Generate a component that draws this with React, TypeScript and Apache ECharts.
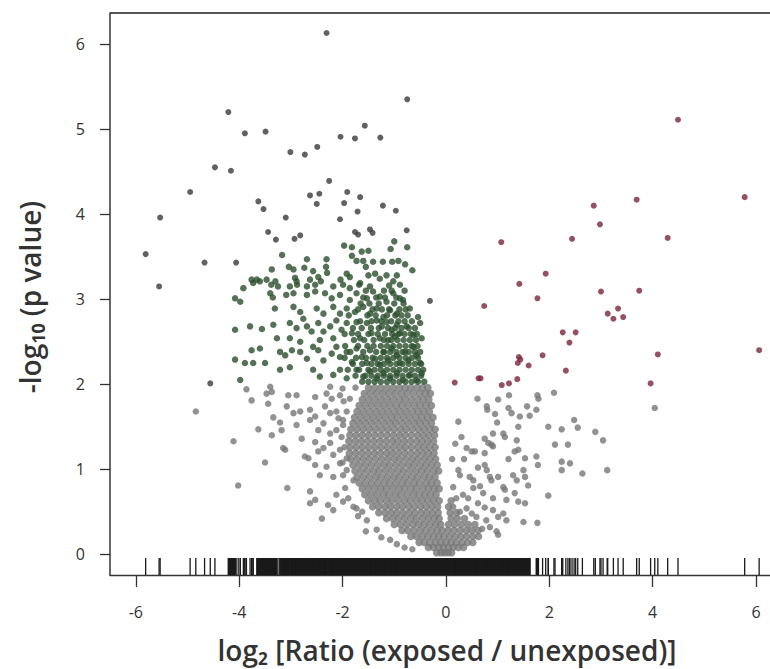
import React, { useEffect, useRef } from "react";
import * as echarts from "echarts";

// ---- axis ticks ----
const xTicks = [-6, -4, -2, 0, 2, 4, 6];
const yTicks = [0, 1, 2, 3, 4, 5, 6];

// ---- most significant points (dark) ----
const darkPoints: number[][] = [
  [-2.31, 6.13], [-0.75, 5.35], [-4.21, 5.2], [-3.89, 4.95], [-3.49, 4.97], [-1.57, 5.04],
  [-2.04, 4.91], [-1.76, 4.89], [-1.27, 4.9], [-2.49, 4.79], [-3.01, 4.73], [-2.73, 4.7],
  [-4.47, 4.55], [-4.16, 4.51], [-2.26, 4.39], [-4.95, 4.26], [-2.63, 4.22], [-2.45, 4.24],
  [-1.91, 4.26], [-1.66, 4.2], [-1.97, 4.13], [-2.5, 4.12], [-3.63, 4.15], [-3.53, 4.06],
  [-1.22, 4.1], [-0.97, 4.04], [-1.71, 4.03], [-5.53, 3.96], [-3.1, 3.96], [-2.05, 3.94],
  [-5.81, 3.53], [-5.55, 3.15], [-4.67, 3.43], [-4.06, 3.43], [-3.44, 3.79], [-3.29, 3.7],
  [-2.93, 3.71], [-2.82, 3.75], [-1.76, 3.79], [-1.7, 3.76], [-1.47, 3.82], [-1.42, 3.78],
  [-0.76, 3.81], [-0.31, 2.98], [-4.56, 2.01],
];

// ---- up-regulated significant points (red) ----
const upPoints: number[][] = [
  [4.49, 5.11], [5.78, 4.2], [3.69, 4.17], [2.86, 4.1], [2.98, 3.88], [1.07, 3.67], [2.44, 3.71],
  [4.29, 3.72], [1.93, 3.3], [1.42, 3.18], [1.77, 3.01], [0.74, 2.92], [3.0, 3.09], [3.74, 3.1],
  [3.33, 2.89], [3.13, 2.83], [3.24, 2.77], [3.43, 2.79], [2.26, 2.61], [2.51, 2.61], [2.39, 2.49],
  [6.06, 2.4], [4.1, 2.35], [3.96, 2.01], [2.32, 2.16], [1.87, 2.34], [1.41, 2.32], [1.39, 2.25],
  [1.44, 2.29], [1.6, 2.22], [1.38, 2.06], [1.22, 2.01], [1.08, 1.99], [0.63, 2.07], [0.67, 2.07],
  [0.17, 2.02],
];

// ---- down-regulated significant points (green) ----
const greenPoints: number[][] = [
  [-1.97, 3.63], [-1.82, 3.61], [-1.63, 3.56], [-1.5, 3.57], [-1.82, 3.51], [-1.73, 3.45],
  [-1.41, 3.44], [-1.22, 3.44], [-1.04, 3.44], [-0.79, 3.41], [-0.65, 3.34], [-1.55, 3.38],
  [-3.17, 3.52], [-2.69, 3.47], [-2.31, 3.47], [-3.37, 3.35], [-3.04, 3.38], [-2.95, 3.35],
  [-2.74, 3.37], [-2.57, 3.33], [-2.32, 3.38], [-2.3, 3.31], [-1.92, 3.3], [-1.37, 3.3],
  [-1.28, 3.24], [-3.76, 3.23], [-3.66, 3.23], [-3.92, 3.13], [-3.47, 3.23], [-3.38, 3.17],
  [-2.92, 3.25], [-2.88, 3.17], [-2.63, 3.23], [-2.47, 3.26], [-2.04, 3.23], [-1.86, 3.26],
  [-1.68, 3.17], [-1.02, 3.21], [-0.89, 3.17], [-1.0, 3.68], [-1.07, 3.59], [-0.75, 3.61],
  [-3.73, 3.19], [-3.6, 3.21], [-3.3, 3.21], [-3.25, 3.15], [-3.02, 3.15], [-2.89, 3.21],
  [-2.69, 3.15], [-2.53, 3.17], [-2.42, 3.21], [-2.18, 3.15], [-1.99, 3.17], [-1.86, 3.13],
  [-1.66, 3.19], [-1.47, 3.15], [-1.1, 3.16], [-0.83, 2.99], [-0.7, 2.89], [-0.54, 2.79],
  [-4.08, 3.01], [-3.98, 2.97], [-3.4, 3.07], [-3.35, 3.02], [-3.09, 3.05], [-2.95, 3.07],
  [-2.69, 3.05], [-2.53, 3.09], [-2.34, 3.07], [-2.21, 3.01], [-2.05, 3.05], [-1.86, 2.99],
  [-1.73, 3.07], [-1.53, 3.01], [-1.41, 3.09], [-1.28, 3.03], [-1.15, 2.97], [-1.02, 3.07],
  [-0.89, 3.01], [-3.31, 2.89], [-2.95, 2.91], [-2.82, 2.85], [-2.5, 2.89], [-2.37, 2.83],
  [-2.18, 2.91], [-2.05, 2.83], [-1.92, 2.89], [-1.76, 2.85], [-1.6, 2.91], [-1.47, 2.83],
  [-1.34, 2.89], [-1.21, 2.79], [-1.08, 2.87], [-0.95, 2.83],
  [-4.08, 2.64], [-3.79, 2.68], [-3.56, 2.65], [-3.34, 2.7], [-3.76, 2.4], [-3.6, 2.42],
  [-3.27, 2.54], [-3.02, 2.72], [-2.89, 2.66], [-3.02, 2.54], [-2.76, 2.77], [-2.69, 2.68],
  [-2.6, 2.62], [-2.82, 2.5], [-2.47, 2.72], [-2.37, 2.62], [-2.24, 2.68], [-2.44, 2.52],
  [-2.12, 2.75], [-2.02, 2.64], [-1.92, 2.72], [-1.82, 2.6], [-2.18, 2.54], [-1.73, 2.73],
  [-1.63, 2.66], [-1.53, 2.72], [-1.44, 2.6], [-1.66, 2.54], [-1.34, 2.75], [-1.24, 2.68],
  [-1.15, 2.73], [-1.05, 2.64], [-0.95, 2.7], [-0.89, 2.6], [-0.76, 2.68], [-0.63, 2.58],
  [-0.5, 2.72], [-0.47, 2.54], [-1.28, 2.54], [-1.12, 2.52], [-0.99, 2.56],
  [-4.08, 2.29], [-3.89, 2.25], [-3.73, 2.25], [-3.5, 2.25], [-3.21, 2.38], [-3.11, 2.34],
  [-2.98, 2.4], [-3.21, 2.17], [-3.02, 2.2], [-2.82, 2.38], [-2.69, 2.3], [-2.57, 2.44],
  [-2.47, 2.4], [-2.37, 2.28], [-2.21, 2.36], [-2.12, 2.44], [-2.05, 2.32], [-1.92, 2.38],
  [-1.82, 2.26], [-1.73, 2.42], [-1.63, 2.32], [-1.53, 2.25], [-1.47, 2.4], [-1.37, 2.3],
  [-1.28, 2.23], [-1.21, 2.38], [-1.12, 2.28], [-1.05, 2.42], [-0.95, 2.34], [-0.89, 2.25],
  [-0.79, 2.38], [-0.73, 2.28], [-0.63, 2.44], [-0.57, 2.34], [-0.5, 2.25],
  [-3.98, 2.05], [-2.57, 2.17], [-2.44, 2.09], [-2.18, 2.11], [-2.05, 2.17], [-1.92, 2.07],
  [-1.73, 2.17], [-1.6, 2.09], [-1.47, 2.15], [-1.34, 2.07], [-1.21, 2.13], [-1.08, 2.07],
  [-0.95, 2.13], [-0.83, 2.05], [-0.7, 2.11], [-0.57, 2.05], [-0.47, 2.13],
];

// dense core of the green cloud read row by row: [y, x values]
const greenCoreRows: [number, number[]][] = [
  [2.03, [-1.62, -1.5, -1.38, -1.26, -1.14, -1.02, -0.9, -0.78, -0.66, -0.54, -0.42]],
  [2.1, [-1.75, -1.56, -1.44, -1.32, -1.2, -1.08, -0.96, -0.84, -0.72, -0.6, -0.48]],
  [2.17, [-1.9, -1.68, -1.5, -1.38, -1.26, -1.14, -1.02, -0.9, -0.78, -0.66, -0.54, -0.44]],
  [2.24, [-1.8, -1.62, -1.44, -1.32, -1.2, -1.08, -0.96, -0.84, -0.72, -0.6, -0.48]],
  [2.31, [-1.96, -1.74, -1.55, -1.42, -1.26, -1.14, -1.02, -0.9, -0.78, -0.66, -0.54]],
  [2.38, [-1.85, -1.6, -1.35, -1.2, -1.08, -0.96, -0.84, -0.72, -0.6, -0.5]],
  [2.45, [-1.95, -1.7, -1.52, -1.4, -1.26, -1.14, -1.02, -0.9, -0.78, -0.66, -0.55]],
  [2.52, [-1.78, -1.58, -1.4, -1.2, -1.06, -0.94, -0.82, -0.7, -0.58]],
  [2.59, [-1.96, -1.7, -1.5, -1.32, -1.18, -1.04, -0.92, -0.8, -0.68, -0.56]],
  [2.66, [-1.8, -1.45, -1.3, -1.12, -0.98, -0.86, -0.72, -0.6]],
  [2.74, [-1.66, -1.44, -1.25, -1.06, -0.92, -0.8, -0.66]],
  [2.81, [-1.88, -1.52, -1.36, -1.14, -0.98, -0.86, -0.74]],
  [2.88, [-1.7, -1.42, -1.24, -1.1, -0.9, -0.78]],
  [2.95, [-1.65, -1.48, -1.3, -1.0, -0.82]],
  [3.02, [-1.6, -1.35, -1.18, -0.96]],
  [3.1, [-1.55, -1.2, -1.05, -0.8]],
  [3.28, [-1.5, -1.15, -0.95]],
  [3.45, [-1.6, -0.92]],
];

// ---- non-significant points (grey), scattered ----
const greyScatter: number[][] = [
  [-4.84, 1.68], [-4.11, 1.33], [-3.5, 1.08], [-4.02, 0.81], [-3.07, 0.78], [-3.86, 1.94],
  [-3.76, 1.81], [-3.63, 1.47], [-3.47, 1.89], [-3.37, 1.91], [-3.05, 1.87], [-2.89, 1.87],
  [-2.53, 1.85], [-2.31, 1.89], [-2.21, 1.83], [-2.05, 1.87], [-1.86, 1.83], [-3.44, 1.77],
  [-3.08, 1.74], [-2.95, 1.66], [-2.82, 1.68], [-2.63, 1.7], [-2.53, 1.62], [-2.34, 1.74],
  [-2.24, 1.66], [-2.12, 1.68], [-1.99, 1.58], [-1.92, 1.68], [-3.34, 1.61], [-3.21, 1.55],
  [-3.18, 1.46], [-2.89, 1.52], [-2.79, 1.36], [-2.63, 1.58], [-2.47, 1.46], [-2.37, 1.54],
  [-2.24, 1.42], [-2.12, 1.46], [-1.99, 1.52], [-3.37, 1.4], [-3.15, 1.25], [-3.11, 1.23],
  [-2.73, 1.15], [-2.66, 1.13], [-2.53, 1.32], [-2.47, 1.21], [-2.37, 1.25], [-2.24, 1.31],
  [-2.18, 1.17], [-2.05, 1.23], [-1.92, 1.13], [-2.53, 1.05], [-2.44, 0.93], [-2.31, 1.03],
  [-2.18, 0.91], [-2.05, 1.07], [-1.99, 0.93], [-1.92, 0.99], [-1.79, 0.87], [-2.63, 0.74],
  [-2.63, 0.6], [-2.53, 0.64], [-2.28, 0.58], [-2.18, 0.52], [-2.4, 0.42], [-2.12, 0.7],
  [-1.99, 0.62], [-1.89, 0.66], [-1.79, 0.56], [-1.73, 0.54], [-1.53, 0.4], [-1.34, 0.29],
  [-1.08, 0.17], [-3.4, 1.97], [-2.24, 1.97], [-2.0, 1.95], [-1.75, 1.96], [-0.95, 0.12],
  [-0.8, 0.08], [-0.65, 0.06], [-1.98, 1.8], [-2.02, 1.38], [-2.0, 1.08], [-1.95, 0.78],
  [-1.7, 0.45], [-1.55, 0.27], [-1.25, 0.2], [-2.08, 1.6], [-1.96, 1.26], [-1.62, 0.5],
  [0.61, 1.83], [1.01, 1.82], [1.22, 1.87], [1.77, 1.87], [1.79, 1.83], [2.09, 1.9],
  [0.79, 1.74], [0.8, 1.7], [1.21, 1.72], [1.27, 1.66], [1.57, 1.74], [1.75, 1.7], [0.95, 1.65],
  [0.24, 1.56], [0.99, 1.55], [1.43, 1.62], [1.4, 1.5], [1.62, 1.63], [1.98, 1.5], [2.24, 1.47],
  [2.48, 1.58], [2.55, 1.49], [2.89, 1.44], [3.04, 1.34], [4.04, 1.72], [0.3, 1.38], [0.75, 1.36],
  [0.82, 1.31], [0.91, 1.42], [1.11, 1.42], [1.14, 1.38], [0.88, 1.29], [1.37, 1.34], [2.11, 1.29],
  [2.36, 1.29], [0.4, 1.25], [0.5, 1.21], [0.56, 1.21], [0.75, 1.19], [0.91, 1.27], [1.33, 1.21],
  [1.4, 1.23], [1.21, 1.12], [1.53, 1.13], [1.75, 1.15], [1.78, 1.05], [2.24, 1.09], [2.4, 1.07],
  [2.24, 0.99], [2.64, 0.95], [3.12, 0.99], [0.24, 0.99], [0.27, 0.93], [0.46, 0.91], [0.53, 0.87],
  [0.75, 1.05], [0.79, 0.99], [0.85, 0.91], [0.88, 0.87], [1.01, 0.91], [1.11, 0.79], [1.3, 0.93],
  [1.37, 0.87], [1.5, 0.99], [1.53, 0.91], [1.59, 0.81], [1.98, 0.69], [0.14, 0.79], [0.33, 0.7],
  [0.43, 0.66], [0.53, 0.78], [0.72, 0.72], [0.91, 0.66], [1.14, 0.76], [1.17, 0.64], [1.33, 0.72],
  [1.4, 0.62], [1.53, 0.6], [1.5, 0.38], [1.77, 0.37], [0.14, 0.56], [0.27, 0.5], [0.4, 0.54],
  [0.5, 0.48], [0.59, 0.44], [0.91, 0.52], [1.01, 0.44], [1.11, 0.48], [1.17, 0.4], [0.85, 0.32],
  [0.98, 0.27], [1.01, 0.23], [0.12, 1.12], [0.18, 1.3], [0.35, 1.12], [0.62, 1.02], [0.66, 0.8],
  [0.2, 0.66], [0.62, 0.6], [0.75, 0.55], [0.78, 0.4], [0.7, 0.3],
];

// dense grey cloud read row by row: [y, x values]
const greyRows: [number, number[]][] = [
  [0.02, [-0.18, -0.1, -0.03, 0.04, 0.11]],
  [0.08, [-0.34, -0.24, -0.14, -0.05, 0.05, 0.14, 0.24, 0.34]],
  [0.14, [-0.52, -0.42, -0.31, -0.2, -0.1, 0.0, 0.1, 0.2, 0.31, 0.42, 0.52]],
  [0.21, [-0.68, -0.57, -0.46, -0.35, -0.24, -0.14, -0.04, 0.07, 0.18, 0.29, 0.4, 0.52, 0.63]],
  [0.28, [-0.85, -0.74, -0.62, -0.5, -0.39, -0.28, -0.17, -0.07, 0.04, 0.15, 0.27, 0.39, 0.5, 0.62]],
  [0.35, [-1.0, -0.88, -0.76, -0.64, -0.53, -0.42, -0.31, -0.2, -0.1, 0.05, 0.17, 0.3, 0.43, 0.56]],
  [0.42, [-1.15, -1.03, -0.92, -0.8, -0.68, -0.57, -0.45, -0.34, -0.23, -0.13, 0.1, 0.22, 0.36]],
  [0.49, [-1.3, -1.18, -1.06, -0.95, -0.83, -0.71, -0.6, -0.48, -0.37, -0.26, -0.15, 0.08, 0.2]],
  [0.56, [-1.42, -1.3, -1.18, -1.07, -0.95, -0.84, -0.72, -0.61, -0.49, -0.38, -0.27, -0.16, 0.05]],
  [0.63, [-1.5, -1.38, -1.27, -1.15, -1.04, -0.92, -0.8, -0.69, -0.57, -0.46, -0.35, -0.24, -0.13, 0.1]],
  [0.7, [-1.57, -1.45, -1.33, -1.21, -1.1, -0.98, -0.87, -0.75, -0.63, -0.52, -0.41, -0.3, -0.19]],
  [0.77, [-1.62, -1.5, -1.38, -1.26, -1.15, -1.03, -0.91, -0.8, -0.68, -0.57, -0.45, -0.34, -0.23, -0.13]],
  [0.84, [-1.68, -1.56, -1.44, -1.32, -1.2, -1.09, -0.97, -0.85, -0.74, -0.62, -0.51, -0.39, -0.28, -0.17]],
  [0.91, [-1.72, -1.6, -1.48, -1.36, -1.25, -1.13, -1.01, -0.9, -0.78, -0.66, -0.55, -0.43, -0.32, -0.21]],
  [0.98, [-1.76, -1.64, -1.52, -1.4, -1.29, -1.17, -1.05, -0.93, -0.82, -0.7, -0.58, -0.47, -0.36, -0.24, -0.14]],
  [1.05, [-1.8, -1.68, -1.56, -1.44, -1.32, -1.2, -1.09, -0.97, -0.85, -0.73, -0.62, -0.5, -0.39, -0.28, -0.17]],
  [1.12, [-1.84, -1.72, -1.6, -1.48, -1.36, -1.24, -1.12, -1.0, -0.89, -0.77, -0.65, -0.54, -0.42, -0.31, -0.2]],
  [1.19, [-1.87, -1.75, -1.63, -1.51, -1.39, -1.27, -1.15, -1.04, -0.92, -0.8, -0.68, -0.56, -0.45, -0.34, -0.23]],
  [1.26, [-1.85, -1.73, -1.61, -1.49, -1.37, -1.25, -1.13, -1.01, -0.89, -0.78, -0.66, -0.54, -0.43, -0.32, -0.21]],
  [1.33, [-1.88, -1.76, -1.64, -1.52, -1.4, -1.28, -1.16, -1.04, -0.93, -0.81, -0.69, -0.57, -0.46, -0.35, -0.24]],
  [1.4, [-1.86, -1.74, -1.62, -1.5, -1.38, -1.26, -1.14, -1.02, -0.9, -0.79, -0.67, -0.55, -0.44, -0.33, -0.22]],
  [1.47, [-1.84, -1.72, -1.6, -1.48, -1.36, -1.24, -1.12, -1.0, -0.88, -0.77, -0.65, -0.53, -0.42, -0.31, -0.21]],
  [1.54, [-1.8, -1.68, -1.56, -1.44, -1.32, -1.2, -1.08, -0.97, -0.85, -0.73, -0.61, -0.5, -0.39, -0.28]],
  [1.61, [-1.77, -1.65, -1.53, -1.41, -1.29, -1.17, -1.05, -0.94, -0.82, -0.7, -0.58, -0.47, -0.36, -0.25]],
  [1.68, [-1.72, -1.6, -1.48, -1.36, -1.24, -1.12, -1.0, -0.89, -0.77, -0.65, -0.54, -0.43, -0.32]],
  [1.75, [-1.68, -1.56, -1.44, -1.32, -1.2, -1.08, -0.96, -0.85, -0.73, -0.61, -0.5, -0.39, -0.28]],
  [1.82, [-1.62, -1.5, -1.38, -1.26, -1.14, -1.02, -0.9, -0.79, -0.67, -0.55, -0.44, -0.33]],
  [1.89, [-1.58, -1.46, -1.34, -1.22, -1.1, -0.98, -0.86, -0.75, -0.63, -0.51, -0.4, -0.3]],
  [1.96, [-1.5, -1.38, -1.26, -1.14, -1.02, -0.9, -0.79, -0.68, -0.56, -0.45, -0.35]],
];

// stretches of the rug so dense that the tick marks merge into a solid bar
const rugBands: number[][] = [[-4.22, -4.06], [-3.66, -3.27], [-3.2, 1.64]];

const X_MIN = -6.5;
const X_MAX = 6.27;
const Y_MIN = -0.243;
const Y_MAX = 6.365;

const rowsToPoints = (rows: [number, number[]][]) =>
  rows.flatMap(([y, xs]) => xs.map((x) => [x, y]));

export default function App() {
  const ref = useRef<HTMLDivElement>(null);

  useEffect(() => {
    if (!ref.current) return;
    const chart = echarts.init(ref.current, null, { renderer: "svg" });

    const greyDense = rowsToPoints(greyRows);
    const greenAll = [...greenPoints, ...rowsToPoints(greenCoreRows)];
    const allX = [...greyDense, ...greyScatter, ...greenAll, ...darkPoints, ...upPoints].map((p) => [p[0], 0]);

    const font = '"Open Sans", "Noto Sans", "DejaVu Sans", sans-serif';

    chart.setOption({
      animation: false,
      backgroundColor: "#ffffff",
      grid: { left: 110, right: 0, top: 13, bottom: 94 },
      xAxis: {
        type: "value",
        min: X_MIN,
        max: X_MAX,
        splitLine: { show: false },
        axisLine: { show: true, onZero: false, lineStyle: { color: "#333", width: 1.3 } },
        axisTick: { show: true, customValues: xTicks, length: 12, lineStyle: { color: "#333", width: 1.3 } },
        axisLabel: { customValues: xTicks, margin: 29, fontSize: 16, color: "#333", fontFamily: font },
      },
      yAxis: {
        type: "value",
        min: Y_MIN,
        max: Y_MAX,
        splitLine: { show: false },
        axisLine: { show: true, onZero: false, lineStyle: { color: "#333", width: 1.5 } },
        axisTick: { show: true, customValues: yTicks, length: 10, lineStyle: { color: "#333", width: 1.3 } },
        axisLabel: { customValues: yTicks, margin: 25, fontSize: 16, color: "#333", fontFamily: font },
      },
      graphic: [
        {
          type: "line",
          shape: { x1: 110, y1: 13, x2: 770, y2: 13 },
          style: { stroke: "#555", lineWidth: 2 },
        },
        {
          type: "text",
          x: 30,
          y: 297,
          rotation: Math.PI / 2,
          style: {
            text: "-log₁₀ (p value)",
            fontSize: 28,
            fontWeight: 600,
            fontFamily: font,
            fill: "#333",
            align: "center",
            verticalAlign: "middle",
          },
        },
        {
          type: "text",
          x: 447,
          y: 650,
          style: {
            text: "log₂ [Ratio (exposed / unexposed)]",
            fontSize: 28,
            fontWeight: 600,
            fontFamily: font,
            fill: "#333",
            align: "center",
            verticalAlign: "middle",
          },
        },
      ],
      series: [
        {
          type: "custom",
          name: "rugBands",
          silent: true,
          z: 5,
          data: rugBands,
          encode: { x: [0, 1] },
          renderItem: (params: any, api: any) => {
            const cs = params.coordSys;
            const x1 = api.coord([api.value(0), 0])[0];
            const x2 = api.coord([api.value(1), 0])[0];
            const yb = cs.y + cs.height;
            return {
              type: "rect",
              shape: { x: x1, y: yb - 17, width: x2 - x1, height: 17 },
              style: { fill: "#1a1a1a" },
            };
          },
        },
        {
          type: "custom",
          name: "rug",
          silent: true,
          z: 5,
          data: allX,
          encode: { x: 0, y: 1 },
          renderItem: (params: any, api: any) => {
            const cs = params.coordSys;
            const x = api.coord([api.value(0), 0])[0];
            const yb = cs.y + cs.height;
            return {
              type: "line",
              shape: { x1: x, y1: yb - 17, x2: x, y2: yb },
              style: { stroke: "#1a1a1a", lineWidth: 1.3 },
            };
          },
        },
        {
          type: "scatter",
          name: "greyDense",
          data: greyDense,
          symbol: "circle",
          symbolSize: 7.5,
          itemStyle: { color: "#777777" },
          silent: true,
          z: 2,
        },
        {
          type: "scatter",
          name: "grey",
          data: greyScatter,
          symbol: "circle",
          symbolSize: 6.5,
          itemStyle: { color: "#777777" },
          silent: true,
          z: 2,
        },
        {
          type: "scatter",
          name: "down",
          data: greenAll,
          symbol: "circle",
          symbolSize: 6.5,
          itemStyle: { color: "#2b4f2d" },
          silent: true,
          z: 3,
        },
        {
          type: "scatter",
          name: "top",
          data: darkPoints,
          symbol: "circle",
          symbolSize: 6,
          itemStyle: { color: "#3a3a3a" },
          silent: true,
          z: 3,
        },
        {
          type: "scatter",
          name: "up",
          data: upPoints,
          symbol: "circle",
          symbolSize: 6,
          itemStyle: { color: "#7a2639" },
          silent: true,
          z: 3,
        },
      ],
    });

    return () => chart.dispose();
  }, []);

  return (
    <div
      ref={ref}
      style={{ position: "fixed", left: 0, top: 0, width: 770, height: 669, background: "#fff" }}
    />
  );
}
